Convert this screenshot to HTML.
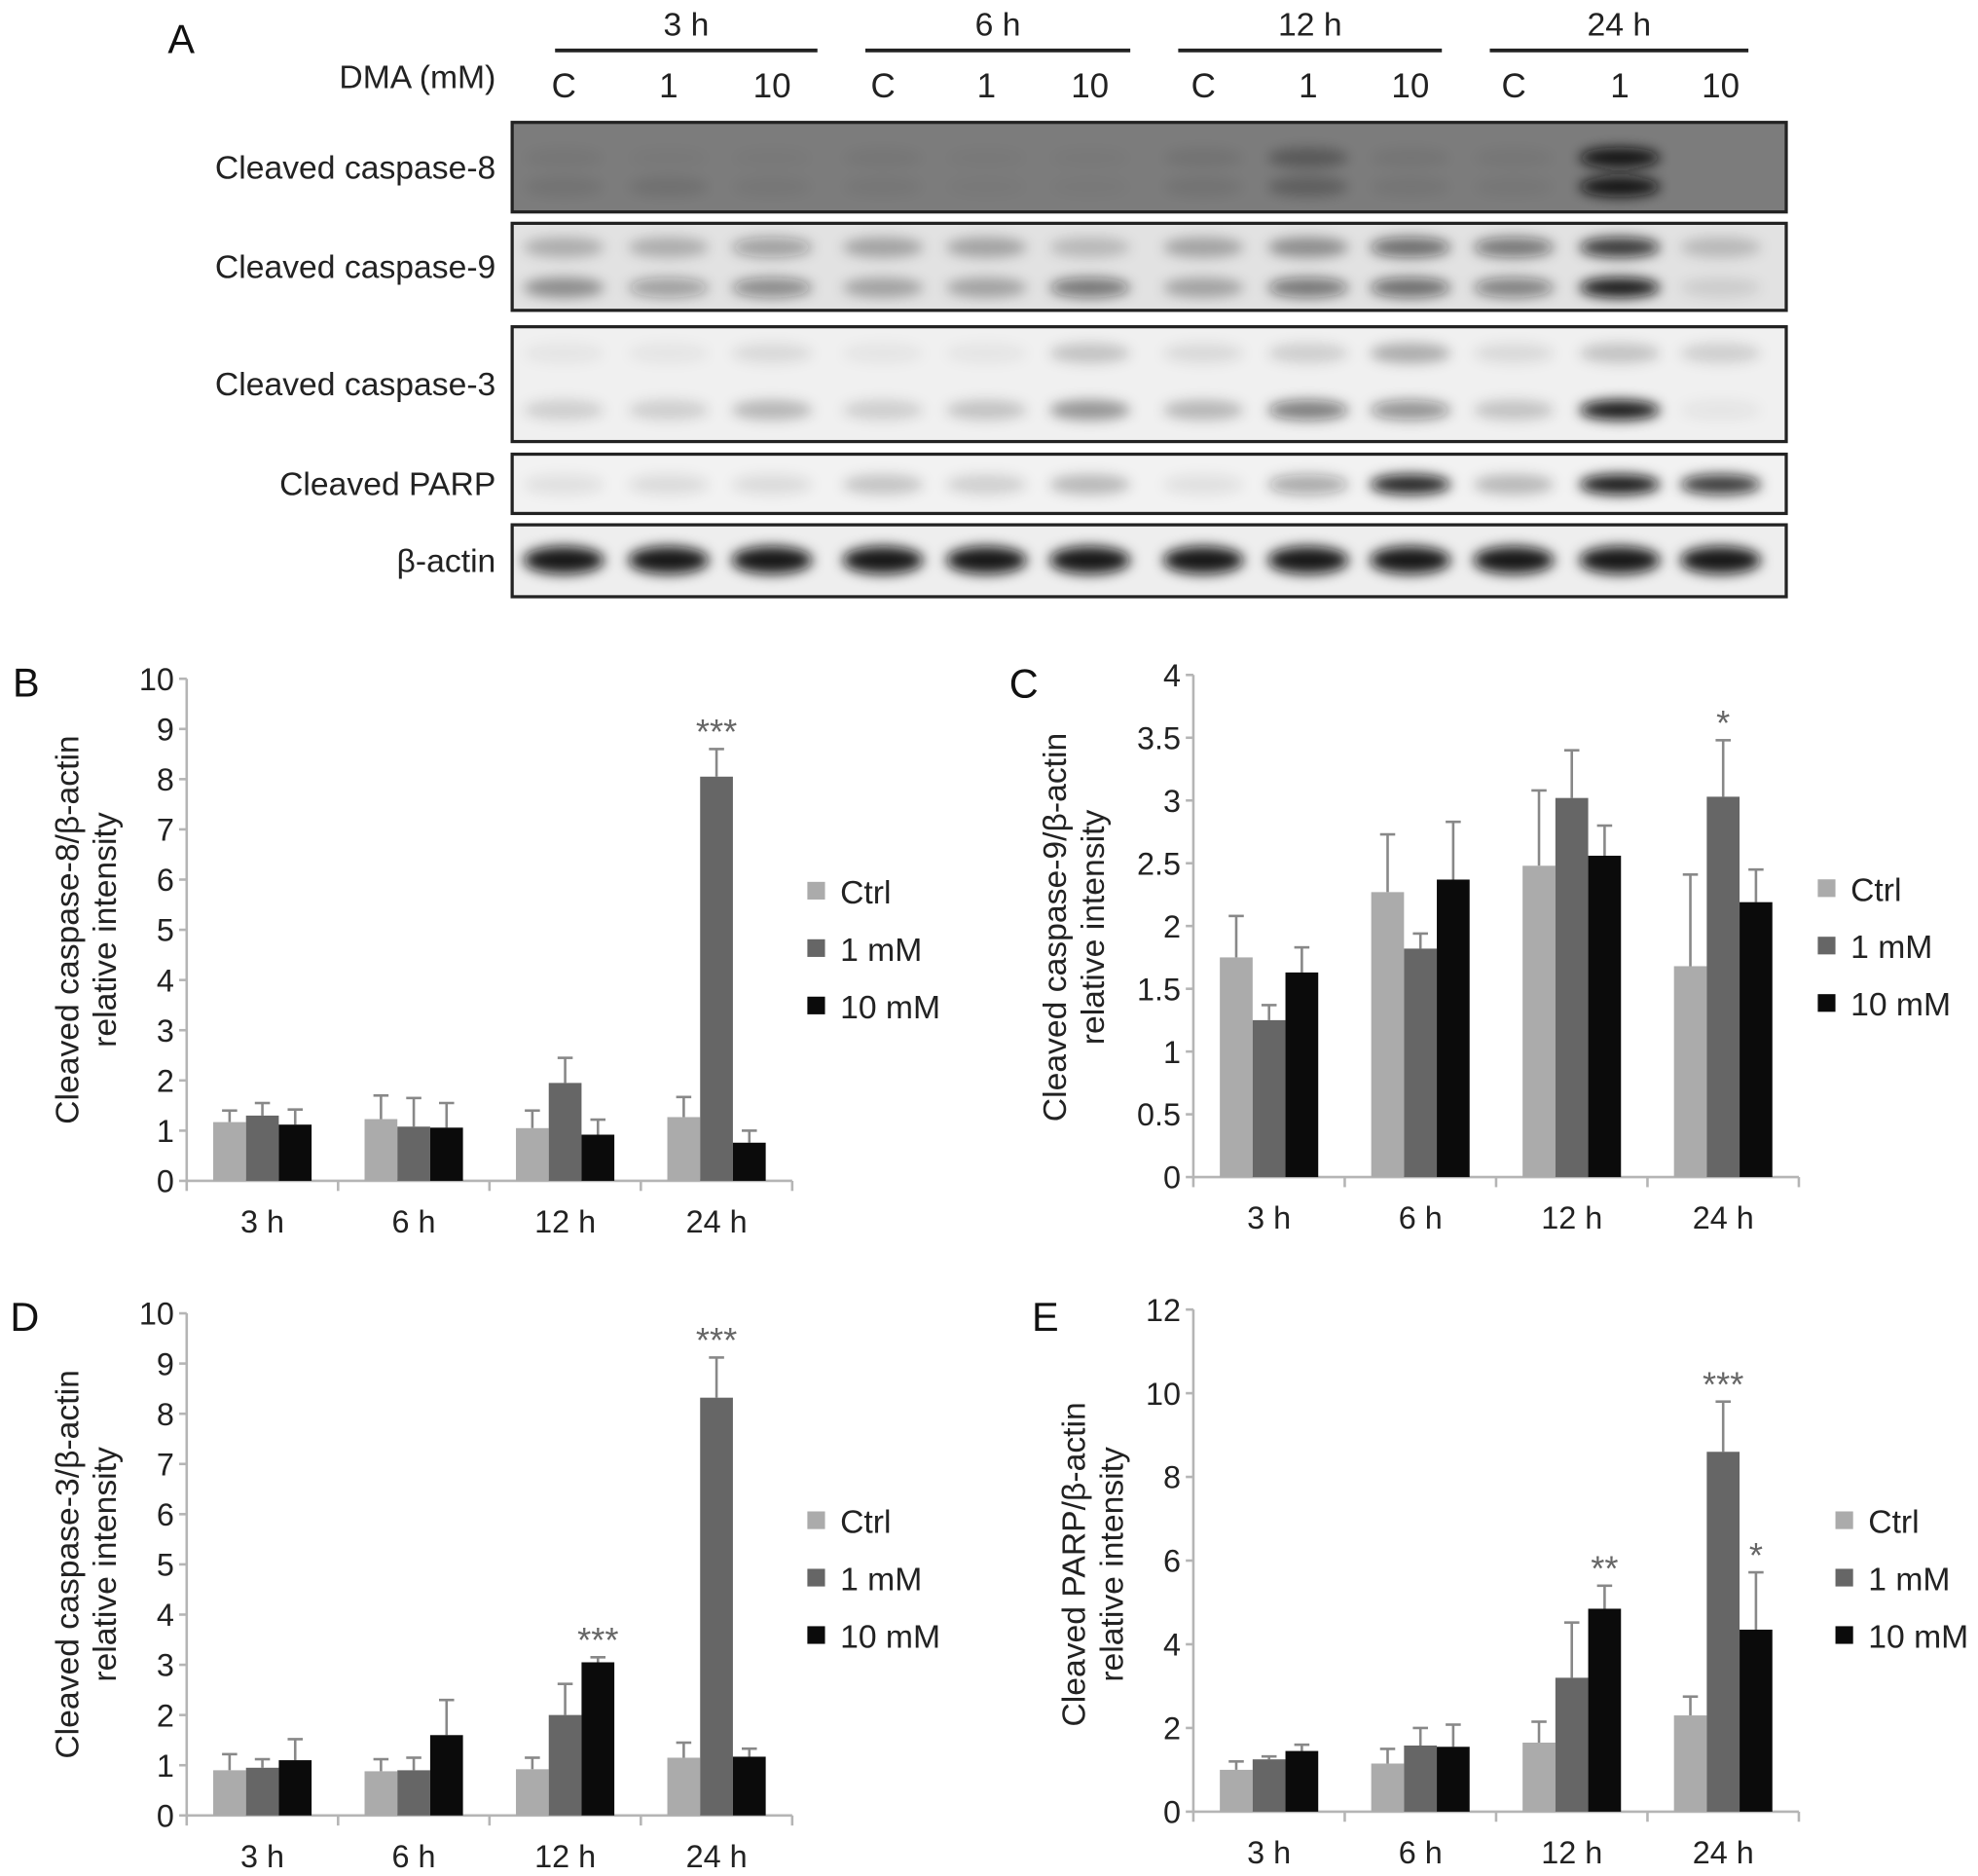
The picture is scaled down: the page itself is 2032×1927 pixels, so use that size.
<!DOCTYPE html>
<html><head><meta charset="utf-8"><style>
html,body{margin:0;padding:0;background:#fff;}
svg{display:block;font-family:"Liberation Sans",sans-serif;}
</style></head><body>
<svg id="fig" width="2032" height="1927" viewBox="0 0 1568 1487" xmlns="http://www.w3.org/2000/svg">
<defs>
<filter id="blur" x="-50%" y="-100%" width="200%" height="300%"><feGaussianBlur stdDeviation="5"/></filter>
</defs>
<g id="blot"></g>
<g id="charts"></g>
</svg>
<script>
// ---- Chart data ----
const categories = ["3 h","6 h","12 h","24 h"];
const seriesNames = ["Ctrl","1 mM","10 mM"];
// Panel B: caspase-8
const bCtrl = [1.17,1.23,1.05,1.27];
const bCtrlErr = [1.4,1.7,1.4,1.67];
const b1mM = [1.3,1.08,1.95,8.05];
const b1mMErr = [1.55,1.65,2.45,8.6];
const b10mM = [1.12,1.06,0.92,0.76];
const b10mMErr = [1.42,1.55,1.22,1.0];
const bTicks = ["0","1","2","3","4","5","6","7","8","9","10"];
// Panel C: caspase-9
const cCtrl = [1.75,2.27,2.48,1.68];
const cCtrlErr = [2.08,2.73,3.08,2.41];
const c1mM = [1.25,1.82,3.02,3.03];
const c1mMErr = [1.37,1.94,3.4,3.48];
const c10mM = [1.63,2.37,2.56,2.19];
const c10mMErr = [1.83,2.83,2.8,2.45];
const cTicks = ["0","0.5","1","1.5","2","2.5","3","3.5","4"];
// Panel D: caspase-3
const dCtrl = [0.9,0.88,0.92,1.15];
const dCtrlErr = [1.22,1.12,1.15,1.45];
const d1mM = [0.95,0.9,2.0,8.32];
const d1mMErr = [1.12,1.15,2.62,9.12];
const d10mM = [1.1,1.6,3.05,1.17];
const d10mMErr = [1.52,2.3,3.15,1.33];
const dTicks = ["0","1","2","3","4","5","6","7","8","9","10"];
// Panel E: PARP
const eCtrl = [1.0,1.15,1.65,2.3];
const eCtrlErr = [1.2,1.5,2.15,2.75];
const e1mM = [1.25,1.58,3.2,8.6];
const e1mMErr = [1.32,2.0,4.52,9.8];
const e10mM = [1.45,1.55,4.85,4.35];
const e10mMErr = [1.6,2.08,5.4,5.72];
const eTicks = ["0","2","4","6","8","10","12"];

const NS="http://www.w3.org/2000/svg";
const colors=["#ababab","#666666","#0b0b0b"];
function mk(tag,attrs,parent){const e=document.createElementNS(NS,tag);for(const k in attrs)e.setAttribute(k,attrs[k]);parent.appendChild(e);return e;}

function chart(cfg){
  const g=mk("g",{},document.getElementById("charts"));
  
  
  const x0=cfg.x0,x1=cfg.x0+480,y0=cfg.y0,yTop=cfg.y0-398;
  const maxV=parseFloat(cfg.ticks[cfg.ticks.length-1]);
  const yS=v=>y0-(v/maxV)*(y0-yTop);
  const gw=(x1-x0)/categories.length;
  const xC=i=>x0+gw*(i+0.5);
  const ax=mk("path",{d:`M${x0},${yTop}V${y0}H${x1}`,stroke:"#b5b5b5","stroke-width":2,fill:"none"},g);
  
  
  cfg.ticks.forEach(t=>{
    const y=yS(parseFloat(t));
    mk("line",{x1:x0-6,x2:x0,y1:y,y2:y,stroke:"#b5b5b5","stroke-width":2},g);
    const tx=mk("text",{x:x0-10,y:y+9,"text-anchor":"end","font-size":25,fill:"#222"},g);
    tx.textContent=t;
    
    
  });
  for(let i=0;i<=categories.length;i++){
    mk("line",{x1:x0+gw*i,x2:x0+gw*i,y1:y0,y2:y0+8,stroke:"#b5b5b5","stroke-width":2},g);
  }
  categories.forEach((c,i)=>{
    const tx=mk("text",{x:xC(i),y:y0+41,"text-anchor":"middle","font-size":25,fill:"#222"},g);
    tx.textContent=c;
    
    
  });
  const bw=26;
  cfg.series.forEach((s,si)=>{
    categories.forEach((c,i)=>{
      const cx=xC(i)+(si-1)*bw;
      const top=yS(s.v[i]),et=yS(s.e[i]);
      const el=mk("line",{x1:cx,x2:cx,y1:et,y2:top,stroke:"#888","stroke-width":2},g);
      
      
      mk("line",{x1:cx-6,x2:cx+6,y1:et,y2:et,stroke:"#888","stroke-width":2},g);
      const r=mk("rect",{x:cx-bw/2,y:top,width:bw,height:y0-top,fill:colors[si]},g);
      
      
    });
  });
  (cfg.stars||[]).forEach(st=>{
    const cx=xC(st[0])+(st[1]-1)*bw;
    const tx=mk("text",{x:cx,y:yS(cfg.series[st[1]].e[st[0]])-4,"text-anchor":"middle","font-size":28,fill:"#666"},g);
    tx.textContent=st[2];
    
    
  });
  seriesNames.forEach((n,i)=>{
    const ly=cfg.ly+i*45.5;
    const r=mk("rect",{x:cfg.lx,y:ly-8,width:14,height:14,fill:colors[i]},g);
    
    
    const t=mk("text",{x:cfg.lx+26,y:ly+9,"font-size":26,fill:"#222"},g);
    t.textContent=n;
    
    
  });
  const tt=mk("text",{transform:`translate(${cfg.tx},${cfg.ty}) rotate(-90)`,"text-anchor":"middle","font-size":26,fill:"#222"},g);
  
  
  const t1=mk("tspan",{x:0,y:0},tt);t1.textContent=cfg.title;
  const t2=mk("tspan",{x:0,y:30},tt);t2.textContent="relative intensity";
  const pl=mk("text",{x:cfg.px,y:cfg.py,"font-size":32,fill:"#111"},g);
  pl.textContent=cfg.label;
  
  
}
chart({name:"chart-caspase-8",label:"B",px:10,py:552,x0:148,y0:936,ticks:bTicks,
  series:[{v:bCtrl,e:bCtrlErr},{v:b1mM,e:b1mMErr},{v:b10mM,e:b10mMErr}],
  stars:[[3,1,"***"]],lx:640,ly:707,tx:62,ty:737,title:"Cleaved caspase-8/β-actin"});
chart({name:"chart-caspase-9",label:"C",px:800,py:553,x0:946,y0:933,ticks:cTicks,
  series:[{v:cCtrl,e:cCtrlErr},{v:c1mM,e:c1mMErr},{v:c10mM,e:c10mMErr}],
  stars:[[3,1,"*"]],lx:1441,ly:705,tx:845,ty:735,title:"Cleaved caspase-9/β-actin"});
chart({name:"chart-caspase-3",label:"D",px:8,py:1055,x0:148,y0:1439,ticks:dTicks,
  series:[{v:dCtrl,e:dCtrlErr},{v:d1mM,e:d1mMErr},{v:d10mM,e:d10mMErr}],
  stars:[[2,2,"***"],[3,1,"***"]],lx:640,ly:1206,tx:62,ty:1240,title:"Cleaved caspase-3/β-actin"});
chart({name:"chart-parp",label:"E",px:818,py:1055,x0:946,y0:1436,ticks:eTicks,
  series:[{v:eCtrl,e:eCtrlErr},{v:e1mM,e:e1mMErr},{v:e10mM,e:e10mMErr}],
  stars:[[2,2,"**"],[3,1,"***"],[3,2,"*"]],lx:1455,ly:1206,tx:860,ty:1240,title:"Cleaved PARP/β-actin"});

// ---- Western blot ----
const lanes=["C","1","10","C","1","10","C","1","10","C","1","10"];
const laneX=[447,530,612,700,782,864,954,1037,1118,1200,1284,1364];
const times=["3 h","6 h","12 h","24 h"];
const timeLineStart=[440,686,934,1181];
const timeLineEnd=[648,896,1143,1386];
const rows=[
 {name:"Cleaved caspase-8",y:97,h:71,bg:"#7c7c7c",bands:[[125,[.05,.03,.03,.05,.03,.03,.08,.3,.06,.05,1,0]],[148,[.08,.1,.05,.05,.03,.03,.08,.25,.06,.05,1,0]]]},
 {name:"Cleaved caspase-9",y:177,h:69,bg:"#e2e2e2",bands:[[196,[.25,.25,.35,.3,.3,.2,.3,.4,.6,.55,.85,.2]],[228,[.4,.35,.45,.3,.3,.55,.3,.55,.6,.5,1,.1]]]},
 {name:"Cleaved caspase-3",y:259,h:91,bg:"#f0f0f0",bands:[[280,[.05,.05,.1,.05,.05,.2,.1,.15,.3,.1,.2,.15]],[325,[.15,.15,.25,.15,.2,.4,.25,.55,.45,.2,1,.05]]]},
 {name:"Cleaved PARP",y:360,h:47,bg:"#f2f2f2",bands:[[384,[.08,.1,.1,.2,.15,.25,.08,.35,.95,.25,1,.85]]]},
 {name:"β-actin",y:416,h:57,bg:"#eeeeee",bands:[[444,[1,1,1,1,1,1,1,1,1,1,1,1]]]}
];
const blot=document.getElementById("blot");
const dl=mk("text",{x:393,y:70,"text-anchor":"end","font-size":26,fill:"#222"},blot);
dl.textContent="DMA (mM)";


const al=mk("text",{x:133,y:42,"font-size":32,fill:"#111"},blot);
al.textContent="A";


times.forEach((t,i)=>{
  const xa=timeLineStart[i],xb=timeLineEnd[i];
  mk("line",{x1:xa,x2:xb,y1:40,y2:40,stroke:"#222","stroke-width":3},blot);
  const tx=mk("text",{x:(xa+xb)/2,y:28,"text-anchor":"middle","font-size":26,fill:"#222"},blot);
  tx.textContent=t;
  
  
});
lanes.forEach((l,i)=>{
  const tx=mk("text",{x:laneX[i],y:77,"text-anchor":"middle","font-size":27,fill:"#222"},blot);
  tx.textContent=l;
  
  
});
rows.forEach(r=>{
  const fr=mk("rect",{x:406,y:r.y,width:1010,height:r.h,fill:r.bg,stroke:"#222","stroke-width":2.5},blot);
  
  
  const bg=mk("g",{filter:"url(#blur)"},blot);
  r.bands.forEach(b=>{
    b[1].forEach((a,i)=>{
      mk("ellipse",{cx:laneX[i],cy:b[0],rx:32,ry:r.name==="β-actin"?11:8,fill:"#111","fill-opacity":a*0.95},bg);
    });
  });
  const lt=mk("text",{x:393,y:r.y+r.h/2+9,"text-anchor":"end","font-size":26,fill:"#222"},blot);
  lt.textContent=r.name;
  
  
});
</script>
</body></html>
